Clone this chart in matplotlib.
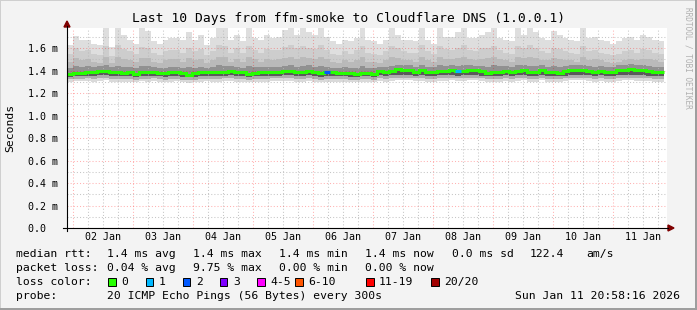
import numpy as np
import matplotlib.pyplot as plt
from matplotlib.patches import Rectangle, Polygon
from matplotlib.lines import Line2D

plt.rcParams['font.family'] = 'DejaVu Sans Mono'

# %% data (values in ms, one entry per consolidated column)

rtt_median = [1.365, 1.381, 1.381, 1.39, 1.39, 1.40, 1.40, 1.387, 1.385, 1.38,
              1.385, 1.372, 1.385, 1.385, 1.39, 1.38, 1.375, 1.387, 1.387, 1.375,
              1.363, 1.375, 1.385, 1.387, 1.387, 1.387, 1.39, 1.40, 1.387, 1.385,
              1.366, 1.38, 1.387, 1.385, 1.39, 1.39, 1.392, 1.392, 1.385, 1.385,
              1.40, 1.387, 1.375, 1.383, 1.385, 1.38, 1.38, 1.375, 1.368, 1.38,
              1.38, 1.368, 1.394, 1.387, 1.395, 1.41, 1.407, 1.404, 1.39, 1.402,
              1.387, 1.387, 1.395, 1.395, 1.404, 1.392, 1.40, 1.404, 1.402, 1.392,
              1.378, 1.387, 1.387, 1.398, 1.387, 1.40, 1.406, 1.387, 1.387, 1.404,
              1.387, 1.385, 1.378, 1.392, 1.404, 1.404, 1.406, 1.394, 1.387, 1.395,
              1.387, 1.387, 1.402, 1.404, 1.41, 1.402, 1.402, 1.392, 1.387, 1.387]

rtt_max = [1.63, 1.71, 1.67, 1.67, 1.64, 1.63, 1.78, 1.61, 1.78, 1.72,
           1.67, 1.64, 1.78, 1.75, 1.66, 1.64, 1.67, 1.69, 1.69, 1.67,
           1.74, 1.67, 1.72, 1.63, 1.69, 1.78, 1.78, 1.67, 1.72, 1.66,
           1.78, 1.69, 1.67, 1.72, 1.69, 1.70, 1.76, 1.78, 1.72, 1.78,
           1.74, 1.72, 1.78, 1.70, 1.66, 1.64, 1.67, 1.66, 1.69, 1.78,
           1.67, 1.66, 1.64, 1.67, 1.78, 1.72, 1.67, 1.67, 1.66, 1.78,
           1.67, 1.64, 1.78, 1.70, 1.70, 1.74, 1.78, 1.69, 1.69, 1.72,
           1.74, 1.78, 1.69, 1.67, 1.66, 1.78, 1.72, 1.78, 1.74, 1.69,
           1.67, 1.75, 1.72, 1.69, 1.67, 1.66, 1.78, 1.69, 1.70, 1.67,
           1.66, 1.64, 1.66, 1.69, 1.70, 1.67, 1.72, 1.70, 1.67, 1.66]

rtt_up3 = [1.55, 1.60, 1.57, 1.58, 1.55, 1.54, 1.62, 1.53, 1.63, 1.59,
           1.57, 1.55, 1.61, 1.60, 1.56, 1.54, 1.57, 1.58, 1.58, 1.56,
           1.60, 1.57, 1.59, 1.54, 1.57, 1.63, 1.62, 1.56, 1.60, 1.56,
           1.62, 1.58, 1.56, 1.59, 1.58, 1.58, 1.61, 1.63, 1.60, 1.62,
           1.60, 1.59, 1.63, 1.58, 1.55, 1.54, 1.57, 1.55, 1.58, 1.62,
           1.56, 1.55, 1.54, 1.57, 1.62, 1.60, 1.57, 1.56, 1.56, 1.63,
           1.57, 1.55, 1.62, 1.59, 1.58, 1.60, 1.63, 1.58, 1.57, 1.60,
           1.60, 1.62, 1.58, 1.56, 1.55, 1.62, 1.60, 1.63, 1.60, 1.57,
           1.56, 1.60, 1.59, 1.57, 1.56, 1.55, 1.62, 1.57, 1.58, 1.56,
           1.55, 1.54, 1.55, 1.57, 1.58, 1.56, 1.59, 1.58, 1.56, 1.55]

rtt_up2 = [1.48, 1.51, 1.49, 1.50, 1.48, 1.47, 1.52, 1.47, 1.52, 1.50,
           1.49, 1.48, 1.51, 1.51, 1.48, 1.47, 1.49, 1.50, 1.50, 1.48,
           1.51, 1.49, 1.50, 1.47, 1.49, 1.52, 1.52, 1.48, 1.50, 1.48,
           1.52, 1.50, 1.48, 1.50, 1.49, 1.50, 1.51, 1.52, 1.50, 1.52,
           1.51, 1.50, 1.52, 1.50, 1.48, 1.47, 1.49, 1.48, 1.49, 1.52,
           1.48, 1.48, 1.47, 1.49, 1.52, 1.51, 1.49, 1.49, 1.48, 1.52,
           1.49, 1.48, 1.52, 1.50, 1.50, 1.51, 1.52, 1.50, 1.49, 1.50,
           1.51, 1.52, 1.50, 1.49, 1.48, 1.52, 1.51, 1.52, 1.51, 1.49,
           1.49, 1.51, 1.50, 1.49, 1.49, 1.48, 1.52, 1.49, 1.50, 1.49,
           1.48, 1.47, 1.48, 1.49, 1.50, 1.49, 1.50, 1.50, 1.49, 1.48]

rtt_up1 = [1.42, 1.44, 1.43, 1.44, 1.43, 1.44, 1.45, 1.43, 1.44, 1.43,
           1.43, 1.42, 1.44, 1.44, 1.43, 1.42, 1.42, 1.43, 1.43, 1.42,
           1.43, 1.42, 1.43, 1.42, 1.43, 1.45, 1.44, 1.44, 1.43, 1.42,
           1.44, 1.43, 1.43, 1.43, 1.43, 1.43, 1.44, 1.45, 1.43, 1.44,
           1.45, 1.43, 1.44, 1.43, 1.42, 1.42, 1.43, 1.42, 1.42, 1.44,
           1.42, 1.42, 1.43, 1.43, 1.44, 1.45, 1.45, 1.45, 1.43, 1.45,
           1.43, 1.43, 1.45, 1.44, 1.45, 1.44, 1.45, 1.45, 1.44, 1.44,
           1.43, 1.45, 1.44, 1.44, 1.43, 1.45, 1.45, 1.44, 1.44, 1.45,
           1.43, 1.44, 1.43, 1.44, 1.45, 1.45, 1.45, 1.44, 1.43, 1.44,
           1.43, 1.43, 1.45, 1.45, 1.46, 1.45, 1.45, 1.44, 1.43, 1.43]

rtt_lo1 = [1.345, 1.350, 1.352, 1.355, 1.352, 1.356, 1.358, 1.350, 1.350, 1.348,
           1.350, 1.345, 1.352, 1.350, 1.355, 1.348, 1.345, 1.352, 1.352, 1.345,
           1.340, 1.345, 1.350, 1.352, 1.352, 1.350, 1.355, 1.358, 1.352, 1.350,
           1.342, 1.348, 1.352, 1.350, 1.355, 1.355, 1.356, 1.356, 1.350, 1.350,
           1.358, 1.352, 1.345, 1.350, 1.350, 1.348, 1.348, 1.345, 1.342, 1.348,
           1.348, 1.342, 1.356, 1.352, 1.356, 1.362, 1.360, 1.360, 1.355, 1.358,
           1.352, 1.352, 1.356, 1.356, 1.360, 1.355, 1.358, 1.360, 1.360, 1.355,
           1.348, 1.352, 1.352, 1.358, 1.352, 1.358, 1.362, 1.352, 1.352, 1.360,
           1.352, 1.350, 1.348, 1.355, 1.360, 1.360, 1.362, 1.356, 1.352, 1.356,
           1.352, 1.352, 1.358, 1.360, 1.362, 1.358, 1.358, 1.355, 1.352, 1.352]

rtt_lo2 = [1.322, 1.325, 1.328, 1.330, 1.326, 1.330, 1.332, 1.325, 1.325, 1.322,
           1.325, 1.320, 1.328, 1.325, 1.330, 1.322, 1.320, 1.326, 1.326, 1.320,
           1.315, 1.320, 1.325, 1.328, 1.326, 1.325, 1.330, 1.332, 1.326, 1.325,
           1.318, 1.322, 1.326, 1.325, 1.330, 1.330, 1.332, 1.330, 1.325, 1.325,
           1.332, 1.326, 1.320, 1.325, 1.325, 1.322, 1.322, 1.320, 1.318, 1.322,
           1.322, 1.318, 1.330, 1.326, 1.330, 1.336, 1.335, 1.334, 1.330, 1.332,
           1.326, 1.326, 1.330, 1.330, 1.334, 1.330, 1.332, 1.335, 1.334, 1.330,
           1.322, 1.326, 1.326, 1.332, 1.326, 1.332, 1.336, 1.326, 1.326, 1.334,
           1.326, 1.325, 1.322, 1.330, 1.334, 1.335, 1.336, 1.330, 1.326, 1.330,
           1.326, 1.326, 1.332, 1.334, 1.336, 1.332, 1.332, 1.330, 1.326, 1.326]

rtt_min = [1.300, 1.305, 1.305, 1.310, 1.302, 1.308, 1.312, 1.300, 1.302, 1.298,
           1.302, 1.296, 1.305, 1.300, 1.308, 1.300, 1.296, 1.302, 1.304, 1.296,
           1.292, 1.298, 1.302, 1.305, 1.302, 1.300, 1.308, 1.310, 1.302, 1.300,
           1.295, 1.300, 1.302, 1.300, 1.308, 1.306, 1.310, 1.306, 1.300, 1.302,
           1.310, 1.302, 1.296, 1.300, 1.302, 1.298, 1.298, 1.296, 1.294, 1.298,
           1.298, 1.294, 1.306, 1.302, 1.308, 1.314, 1.312, 1.312, 1.306, 1.310,
           1.302, 1.302, 1.308, 1.306, 1.312, 1.306, 1.310, 1.312, 1.312, 1.306,
           1.298, 1.302, 1.302, 1.310, 1.302, 1.310, 1.314, 1.302, 1.302, 1.312,
           1.302, 1.300, 1.298, 1.306, 1.312, 1.312, 1.314, 1.306, 1.302, 1.306,
           1.302, 1.302, 1.310, 1.312, 1.314, 1.310, 1.310, 1.306, 1.302, 1.302]

# columns with lost pings (index, pings lost out of 20)
loss_cols = [43, 65]
loss_counts = [2, 1]

loss_labels = ["0", "1", "2", "3", "4-5", "6-10", "11-19", "20/20"]
loss_colors = ["#26ff00", "#00b8ff", "#0059ff", "#7e00ff",
               "#ff00ff", "#ff5500", "#ff0000", "#a10000"]
loss_upper = [0, 1, 2, 3, 5, 10, 19, 20]

day_labels = ["02 Jan", "03 Jan", "04 Jan", "05 Jan", "06 Jan",
              "07 Jan", "08 Jan", "09 Jan", "10 Jan", "11 Jan"]
y_ticks = [0.0, 0.2, 0.4, 0.6, 0.8, 1.0, 1.2, 1.4, 1.6]
y_tick_labels = ["0.0  ", "0.2 m", "0.4 m", "0.6 m", "0.8 m",
                 "1.0 m", "1.2 m", "1.4 m", "1.6 m"]

# time axis in hours since 01 Jan 00:00
t_start = 21.48
t_end = 261.48
col_hours = 2.388

# %% figure

W, H = 697, 310
fig = plt.figure(figsize=(W / 100, H / 100), dpi=100, facecolor="#f3f3f3")


def fx(px):
    return px / W


def fy(py):
    return 1 - py / H


ax = fig.add_axes([fx(67), fy(228), 600 / W, 200 / H])
ax.set_facecolor("white")
ax.set_xlim(t_start, t_end)
ax.set_ylim(0, 1.778)

edges = t_start + col_hours * np.arange(len(rtt_median) + 1)

bands = [
    (rtt_min, rtt_lo2, "#dadada"),
    (rtt_lo2, rtt_lo1, "#adadad"),
    (rtt_lo1, rtt_median, "#5a5a5a"),
    (rtt_median, rtt_up1, "#919191"),
    (rtt_up1, rtt_up2, "#bababa"),
    (rtt_up2, rtt_up3, "#cdcdcd"),
    (rtt_up3, rtt_max, "#dedede"),
]
for lo, hi, c in bands:
    ax.stairs(hi, edges, baseline=lo, fill=True, color=c, lw=0,
              antialiased=False, zorder=1)

ax.stairs(rtt_median, edges, baseline=None, color=loss_colors[0], lw=2.2, zorder=4)
for col, n in zip(loss_cols, loss_counts):
    idx = next(i for i, u in enumerate(loss_upper) if n <= u)
    ax.hlines(rtt_median[col], edges[col], edges[col + 1],
              color=loss_colors[idx], lw=2.2, zorder=5)

# grid: red at midnight / every 0.2, grey every 6 h / every 0.1
ax.set_xticks(np.arange(24, t_end, 24))
ax.set_xticks([h for h in np.arange(6, t_end, 6) if h % 24 and h > t_start], minor=True)
ax.set_yticks(y_ticks)
ax.set_yticks(np.arange(0.1, 1.78, 0.2), minor=True)
ax.set_yticklabels(y_tick_labels)
ax.set_xticklabels([])
ax.tick_params(which="both", length=0, labelsize=7.2, pad=6.5)
ax.set_axisbelow(False)
ax.grid(which="major", color="#ff0000", alpha=0.3, lw=0.75, ls=(0, (1, 2)), zorder=3)
ax.grid(which="minor", color="#b8b8b8", alpha=0.8, lw=0.75, ls=(0, (1, 2)), zorder=3)
for s in ax.spines.values():
    s.set_visible(False)

for i, lab in enumerate(day_labels):
    ax.text(24 * (i + 1) + 12, -0.047, lab, transform=ax.get_xaxis_transform(),
            ha="center", va="center", fontsize=7.2)

# axis lines with arrows
fig.add_artist(Line2D([fx(63), fx(668)], [fy(228), fy(228)], color="#000000", lw=0.8))
fig.add_artist(Line2D([fx(67), fx(67)], [fy(231), fy(26)], color="#000000", lw=0.8))
fig.add_artist(Polygon([(fx(64), fy(27)), (fx(70), fy(27)), (fx(67), fy(21))],
                       closed=True, color="#7f0000"))
fig.add_artist(Polygon([(fx(668), fy(225)), (fx(668), fy(231)), (fx(674), fy(228))],
                       closed=True, color="#7f0000"))

# frame shading
fig.add_artist(Rectangle((0, fy(1)), 1, 1 / H, color="#cfcfcf", lw=0))
fig.add_artist(Rectangle((0, 0), 1 / W, 1, color="#cfcfcf", lw=0))
fig.add_artist(Rectangle((fx(695), 0), 2 / W, 1, color="#9e9e9e", lw=0))
fig.add_artist(Rectangle((0, 0), 1, 2 / H, color="#9e9e9e", lw=0))

fig.text(fx(348.5), fy(18.5), "Last 10 Days from ffm-smoke to Cloudflare DNS (1.0.0.1)",
         ha="center", va="center", fontsize=9.4)
fig.text(fx(10), fy(128), "Seconds", rotation=90, ha="center", va="center", fontsize=8.2)
fig.text(fx(688), fy(58), "RRDTOOL / TOBI OETIKER", rotation=270, ha="center",
         va="center", fontsize=5.6, color="#b0b0b0")

# legend block
fs = 8.2
row1 = [(16, "median rtt:"), (107, "1.4 ms avg"), (193, "1.4 ms max"),
        (279, "1.4 ms min"), (365, "1.4 ms now"), (452, "0.0 ms sd"),
        (530, "122.4"), (586, "am/s")]
row2 = [(16, "packet loss:"), (107, "0.04 % avg"), (193, "9.75 % max"),
        (279, "0.00 % min"), (365, "0.00 % now")]
for x, s in row1:
    fig.text(fx(x), fy(254), s, ha="left", va="center", fontsize=fs)
for x, s in row2:
    fig.text(fx(x), fy(268), s, ha="left", va="center", fontsize=fs)

fig.text(fx(16), fy(282), "loss color:", ha="left", va="center", fontsize=fs)
sq_x = [108, 145.7, 182.7, 220, 257.3, 295.3, 366, 431]
for x, lab, c in zip(sq_x, loss_labels, loss_colors):
    fig.add_artist(Rectangle((fx(x), fy(285.5)), 7.5 / W, 7.5 / H,
                             facecolor=c, edgecolor="#000000", lw=0.7))
    fig.text(fx(x + 13), fy(282), lab, ha="left", va="center", fontsize=fs)

fig.text(fx(16), fy(296), "probe:", ha="left", va="center", fontsize=fs)
fig.text(fx(107), fy(296), "20 ICMP Echo Pings (56 Bytes) every 300s",
         ha="left", va="center", fontsize=fs)
fig.text(fx(680), fy(296), "Sun Jan 11 20:58:16 2026", ha="right", va="center", fontsize=fs)

fig.savefig("out.png", dpi=100, facecolor=fig.get_facecolor())
